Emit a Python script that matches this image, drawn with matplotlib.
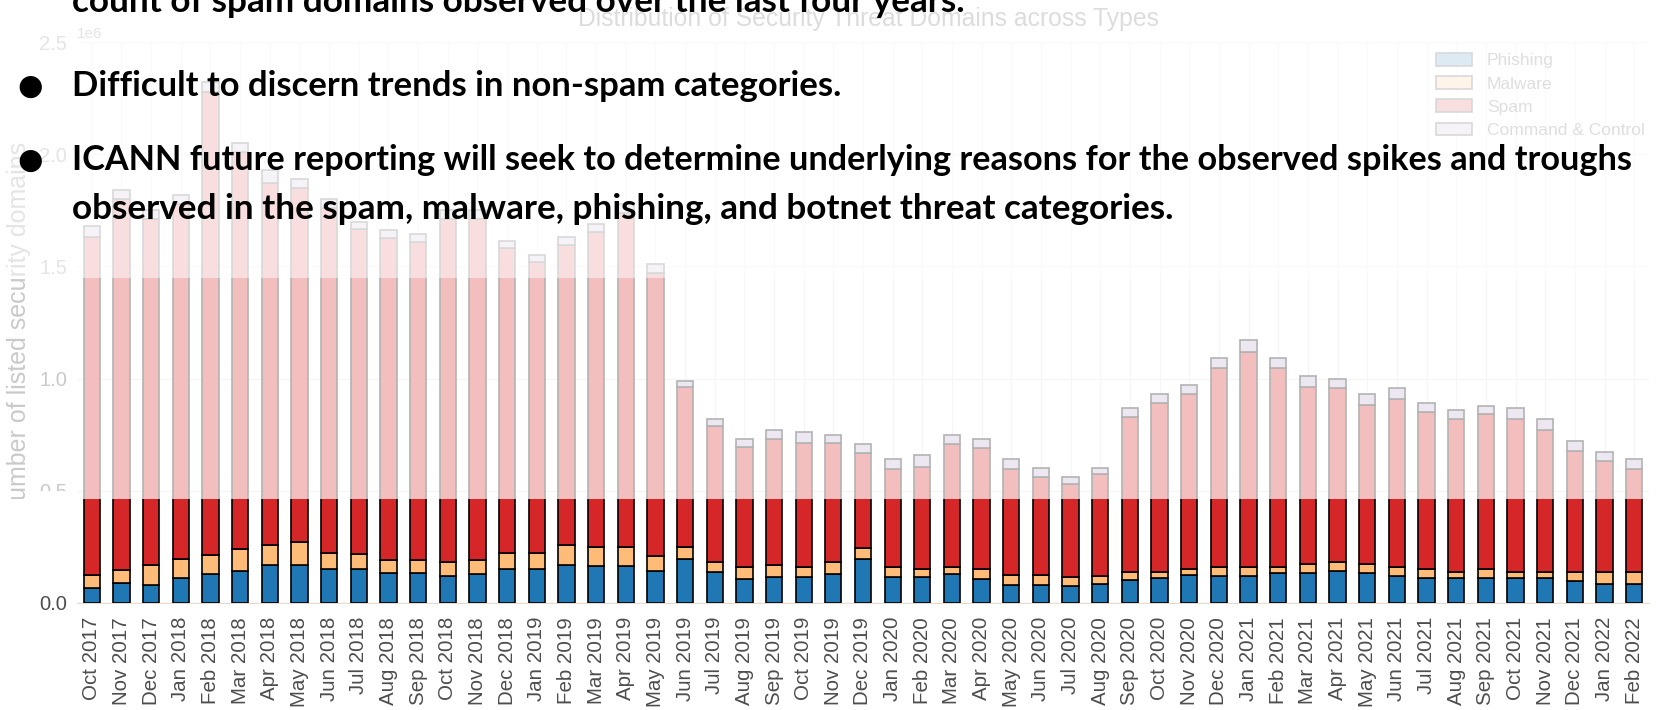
import numpy as np
import matplotlib
matplotlib.use('Agg')
import matplotlib.pyplot as plt
from matplotlib.patches import Rectangle
from matplotlib import transforms as mtrans

plt.rcParams['font.family'] = ['Liberation Sans', 'DejaVu Sans']

# ---------------- data (values in thousands of domains) ----------------
UNIT = 1000
months = ["Oct 2017", "Nov 2017", "Dec 2017",
          "Jan 2018", "Feb 2018", "Mar 2018", "Apr 2018", "May 2018", "Jun 2018",
          "Jul 2018", "Aug 2018", "Sep 2018", "Oct 2018", "Nov 2018", "Dec 2018",
          "Jan 2019", "Feb 2019", "Mar 2019", "Apr 2019", "May 2019", "Jun 2019",
          "Jul 2019", "Aug 2019", "Sep 2019", "Oct 2019", "Nov 2019", "Dec 2019",
          "Jan 2020", "Feb 2020", "Mar 2020", "Apr 2020", "May 2020", "Jun 2020",
          "Jul 2020", "Aug 2020", "Sep 2020", "Oct 2020", "Nov 2020", "Dec 2020",
          "Jan 2021", "Feb 2021", "Mar 2021", "Apr 2021", "May 2021", "Jun 2021",
          "Jul 2021", "Aug 2021", "Sep 2021", "Oct 2021", "Nov 2021", "Dec 2021",
          "Jan 2022", "Feb 2022"]
phishing = [66, 87, 82, 110, 130, 143, 168, 168, 153, 153, 132, 132, 120, 128, 153,
            153, 170, 164, 164, 143, 197, 140, 107, 118, 118, 128, 194, 115, 115, 128,
            107, 82, 82, 74, 85, 104, 110, 123, 120, 120, 132, 132, 143, 132, 120,
            110, 110, 110, 110, 110, 99, 85, 85]
malware = [61, 61, 87, 87, 85, 99, 92, 104, 72, 64, 61, 61, 61, 64, 72,
           72, 88, 85, 85, 66, 53, 44, 54, 51, 43, 56, 49, 46, 36, 33,
           44, 44, 44, 44, 34, 36, 30, 28, 41, 41, 30, 41, 41, 41, 41,
           41, 30, 41, 30, 30, 41, 54, 54]
spam = [1504, 1652, 1541, 1583, 2060, 1768, 1610, 1578, 1535, 1448, 1432, 1417, 1529, 1518, 1355,
        1295, 1339, 1403, 1491, 1261, 713, 603, 535, 561, 552, 529, 426, 438, 454, 548,
        541, 473, 434, 412, 456, 690, 750, 781, 885, 957, 884, 790, 775, 710, 750,
        698, 682, 691, 681, 633, 537, 492, 460]
command_control = [49, 40, 40, 40, 45, 40, 60, 40, 40, 35, 35, 35, 40, 40, 35,
                   30, 33, 38, 40, 40, 27, 33, 34, 40, 47, 37, 41, 41, 55, 41,
                   38, 41, 40, 30, 25, 40, 40, 38, 44, 52, 44, 47, 41, 47, 49,
                   41, 38, 38, 49, 47, 43, 44, 41]
series_names = ["Phishing", "Malware", "Spam", "Command & Control"]
series_colors = ["#1f77b4", "#ffbb78", "#d62728", "#c5b0d5"]
y_ticks = [0.0, 0.5e6, 1.0e6, 1.5e6, 2.0e6, 2.5e6]

title = "Distribution of Security Threat Domains across Types"
ylabel = "Number of listed security domains"
slide_lines = [
    "count of spam domains observed over the last four years.",
    "Difficult to discern trends in non-spam categories.",
    "ICANN future reporting will seek to determine underlying reasons for the observed spikes and troughs",
    "observed in the spam, malware, phishing, and botnet threat categories.",
]

# ---------------- figure ----------------
W, H = 1657, 710
fig = plt.figure(figsize=(W / 100, H / 100), dpi=100)
fig.patch.set_facecolor('white')

AX_L, AX_R, AX_T, AX_B = 77, 1649, 42, 603
ax = fig.add_axes([AX_L / W, 1 - AX_B / H, (AX_R - AX_L) / W, (AX_B - AX_T) / H])
ax.set_facecolor('white')

x = np.arange(len(months))
bottom = np.zeros(len(months))
for name, vals, col in zip(series_names, [phishing, malware, spam, command_control], series_colors):
    v = np.asarray(vals, dtype=float) * UNIT
    ax.bar(x, v, 0.55, bottom=bottom, color=col, edgecolor='black', linewidth=1.2,
           label=name, zorder=3)
    bottom = bottom + v

ax.set_xlim(-0.5, len(months) - 0.5)
ax.set_ylim(0, 2.5e6)
ax.set_yticks(y_ticks)
ax.ticklabel_format(axis='y', style='sci', scilimits=(0, 0))
ax.set_xticks(x)
ax.set_xticklabels(months, rotation=90, fontsize=14.8, color='#4d4d4d')
ax.tick_params(axis='both', length=0)
ax.tick_params(axis='x', pad=10)
ax.tick_params(axis='y', pad=7, labelsize=14.5, labelcolor='#4d4d4d')
ax.yaxis.get_offset_text().set(fontsize=11, color='#4d4d4d')
ax.grid(True, color='#e4e4e4', linewidth=1.0)
ax.set_axisbelow(True)
for s in ['top', 'right', 'left']:
    ax.spines[s].set_visible(False)
ax.spines['bottom'].set_color('#eadbd0')

ax.legend(loc='upper right', bbox_to_anchor=(1645 / W, 1 - 53 / H), bbox_transform=fig.transFigure,
          frameon=False, fontsize=12.5, handlelength=2.1, handleheight=0.75,
          handletextpad=0.85, labelspacing=0.45, borderaxespad=0, borderpad=0,
          labelcolor='#262626')

renderer = fig.canvas.get_renderer()

t_title = fig.text(868 / W, 1 - 19 / H, title, ha='center', va='center', fontsize=17,
                   color='#1a1a1a', zorder=0.5)
bb = t_title.get_window_extent(renderer)
t_title.set_fontsize(17 * 584 / bb.width)

t_yl = fig.text(19 / W, 1 - 330 / H, ylabel, rotation=90, ha='center', va='center',
                fontsize=18, color='#4d4d4d', zorder=0.5)

# ---------------- slide fading overlays ----------------
FADE_LOW, FADE_HIGH = 0.465e6, 1.45e6
blend = mtrans.blended_transform_factory(fig.transFigure, ax.transData)
fig.add_artist(Rectangle((0, FADE_LOW), 1, 3e6, transform=blend, facecolor='white',
                         edgecolor='none', alpha=0.70, zorder=1))
fig.add_artist(Rectangle((0, FADE_HIGH), 1, 3e6, transform=blend, facecolor='white',
                         edgecolor='none', alpha=0.50, zorder=1.5))
# opaque strips left of the plot (hide the "N" of the label and the lower half of "0.5")
fig.add_artist(Rectangle((0, 0.06e6), 34 / W, FADE_LOW - 0.06e6, transform=blend,
                         facecolor='white', edgecolor='none', alpha=1.0, zorder=2))
fig.add_artist(Rectangle((34 / W, 0.06e6), 38 / W, 0.5e6 - 0.06e6, transform=blend,
                         facecolor='white', edgecolor='none', alpha=1.0, zorder=2))

# ---------------- slide text ----------------
def put(xp, yp, s, target_w):
    t = fig.text(xp / W, 1 - yp / H, s, fontsize=20, fontweight='bold',
                 family=['Lato', 'DejaVu Sans'], color='black', ha='left', va='baseline', zorder=5)
    b = t.get_window_extent(renderer)
    t.set_fontsize(20 * target_w / b.width)
    return t

put(72, 12, slide_lines[0], 893)
put(72, 96, slide_lines[1], 770)
put(72, 170, slide_lines[2], 1560)
put(72, 219, slide_lines[3], 1104)
for yb in (87, 161):
    fig.text(30 / W, 1 - yb / H, "\u25CF", ha='center', va='center', fontsize=21,
             family='DejaVu Sans', color='black', zorder=5)

fig.savefig('out.png', dpi=100, facecolor='white')
